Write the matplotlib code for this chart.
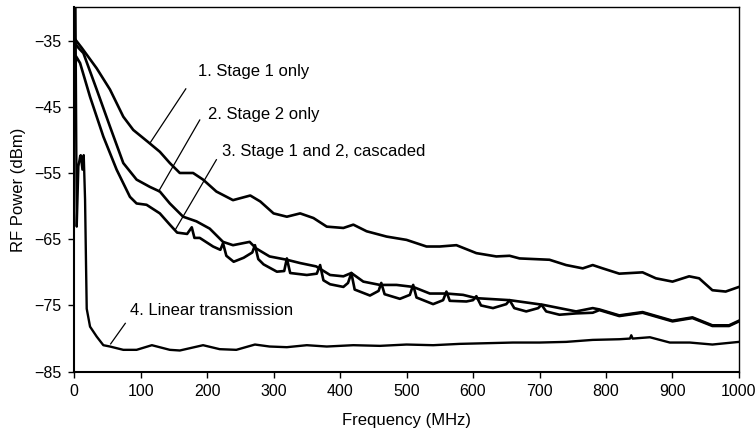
import matplotlib
matplotlib.use("Agg")
import matplotlib.pyplot as plt

plt.rcParams["font.family"] = ["Liberation Sans", "DejaVu Sans"]

# 1. Stage 1 only
f1 = [0, 1.5, 11.5, 34, 54, 74, 89, 111, 129, 144, 159, 179, 194, 214, 239, 265,
      280, 300, 320, 340, 360, 380, 405, 420, 440, 470, 500, 530, 550, 575, 605,
      635, 655, 670, 715, 740, 765, 780, 795, 820, 855, 875, 900, 925, 940, 960,
      980, 1000]
p1 = [-34.6, -34.8, -36.1, -39.2, -42.4, -46.5, -48.5, -50.3, -51.8, -53.5, -55.0,
      -55.0, -56.0, -57.8, -59.1, -58.4, -59.3, -61.1, -61.6, -61.1, -61.8, -63.1,
      -63.3, -62.8, -63.8, -64.6, -65.1, -66.1, -66.1, -65.9, -67.1, -67.6, -67.5,
      -67.9, -68.1, -68.9, -69.4, -68.9, -69.4, -70.2, -70.0, -70.9, -71.4, -70.6,
      -70.9, -72.7, -72.9, -72.2]

# 2. Stage 2 only
f2 = [2, 6.5, 14, 34, 54, 74, 94, 114, 129, 144, 164, 184, 204, 224, 239, 264,
      274, 294, 320, 340, 364, 385, 405, 417, 435, 460, 485, 510, 535, 560, 585,
      605, 655, 705, 730, 755, 780, 790, 820, 855, 900, 930, 960, 985, 1000]
p2 = [-35.5, -36.1, -36.9, -42.4, -48.0, -53.5, -56.0, -57.1, -57.8, -59.6, -61.6,
      -62.3, -63.4, -65.4, -65.9, -65.4, -66.4, -67.6, -68.1, -68.6, -69.1, -70.4,
      -70.6, -70.1, -71.4, -71.9, -71.9, -72.2, -73.2, -73.2, -73.4, -73.9, -74.2,
      -74.9, -75.4, -75.9, -75.4, -75.6, -76.5, -76.0, -77.3, -76.8, -78.0, -78.0,
      -77.3]

# 3. Stage 1 and 2, cascaded
f3 = [1, 3, 9, 24, 44, 64, 84, 94, 109, 129, 144, 155, 170, 177, 181, 189, 209,
      220, 224, 229, 240, 255, 268, 272, 277, 285, 305, 316, 320, 325, 350, 365,
      370, 375, 385, 405, 412, 417, 422, 445, 458, 462, 467, 490, 505, 510, 515,
      540, 555, 560, 565, 590, 600, 605, 612, 630, 650, 655, 662, 680, 698, 703,
      710, 730, 755, 780, 790, 820, 855, 900, 930, 960, 985, 1000]
p3 = [-41.0, -37.4, -38.4, -43.5, -49.5, -54.5, -58.6, -59.6, -59.8, -61.1, -62.8,
      -64.0, -64.2, -63.2, -64.8, -64.8, -66.1, -66.6, -65.6, -67.5, -68.4, -67.8,
      -67.0, -65.9, -68.0, -68.8, -69.9, -69.8, -67.9, -70.1, -70.4, -70.2, -68.9,
      -71.2, -71.8, -72.2, -71.6, -70.1, -72.6, -73.5, -72.8, -71.6, -73.3, -74.0,
      -73.4, -71.9, -73.8, -74.8, -74.2, -72.9, -74.3, -74.4, -74.2, -73.6, -75.0,
      -75.4, -74.8, -74.2, -75.4, -75.9, -75.4, -74.9, -75.9, -76.4, -76.2, -76.1,
      -75.7, -76.6, -76.1, -77.4, -76.9, -78.1, -78.1, -77.4]

# 4. Linear transmission
f4 = [0, 2, 4, 6.5, 9, 10, 12.5, 14.5, 16.5, 18, 19, 24, 34, 44, 54, 74, 94, 117,
      144, 159, 194, 219, 244, 272, 294, 320, 350, 380, 420, 460, 500, 540, 580,
      620, 660, 700, 740, 780, 820, 836, 838, 840, 866, 896, 926, 960, 1000]
p4 = [-25.0, -28.0, -63.1, -54.0, -52.5, -52.3, -54.5, -52.3, -59.0, -69.1, -75.5,
      -78.2, -79.7, -81.0, -81.2, -81.7, -81.7, -81.0, -81.7, -81.8, -81.0, -81.6,
      -81.7, -80.9, -81.2, -81.3, -81.0, -81.2, -81.0, -81.1, -80.9, -81.0, -80.8,
      -80.7, -80.6, -80.6, -80.5, -80.2, -80.1, -80.0, -79.5, -80.0, -79.8, -80.6,
      -80.6, -80.9, -80.5]

labels = ["1. Stage 1 only", "2. Stage 2 only", "3. Stage 1 and 2, cascaded",
          "4. Linear transmission"]
label_pos = [(186, -39.7), (202, -46.1), (222, -51.8), (84, -75.7)]
leader_from = [(168, -42.3), (189, -47.0), (214, -53.0), (77, -77.7)]
leader_to = [(114, -50.5), (127, -57.8), (152, -63.6), (55, -80.8)]

xticks = list(range(0, 1001, 100))
yticks = [-35, -45, -55, -65, -75, -85]

fig = plt.figure(figsize=(7.56, 4.36), dpi=100)
ax = fig.add_axes([0.098, 0.1475, 0.8795, 0.8355])

for f, p in [(f1, p1), (f2, p2), (f3, p3)]:
    ax.plot(f, p, color="black", lw=1.9)
ax.plot(f4, p4, color="black", lw=1.7)

for txt, tp, a, b in zip(labels, label_pos, leader_from, leader_to):
    ax.text(tp[0], tp[1], txt, fontsize=12, va="center", ha="left")
    ax.plot([a[0], b[0]], [a[1], b[1]], color="black", lw=0.9)

ax.set_xlim(0, 1000)
ax.set_ylim(-85, -30)
ax.set_xticks(xticks)
ax.set_yticks(yticks)
ax.tick_params(direction="out", length=4, width=1, labelsize=11.5, pad=5,
               colors="black")
ax.set_xlabel("Frequency (MHz)", fontsize=12, labelpad=10)
ax.set_ylabel("RF Power (dBm)", fontsize=12, labelpad=6)
for s in ["top", "right"]:
    ax.spines[s].set_linewidth(1.0)
for s in ["left", "bottom"]:
    ax.spines[s].set_linewidth(1.5)

fig.savefig("out.png", dpi=100)
